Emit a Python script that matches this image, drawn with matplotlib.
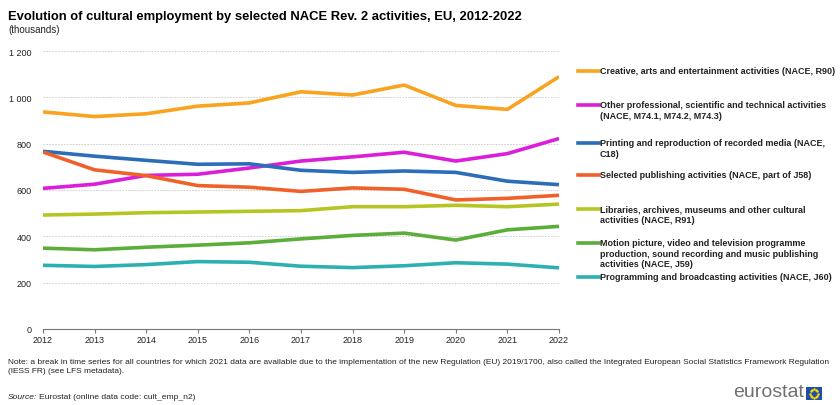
import numpy as np
import matplotlib
matplotlib.use('Agg')
from matplotlib import pyplot as plt
from matplotlib.lines import Line2D

years = list(range(2012, 2023))

creative = [937, 917, 929, 962, 976, 1024, 1010, 1053, 965, 948, 1089]
professional = [607, 625, 663, 668, 695, 725, 743, 763, 725, 757, 822]
printing = [767, 746, 728, 711, 713, 685, 676, 682, 676, 638, 623]
publishing = [764, 687, 662, 619, 612, 594, 609, 603, 557, 564, 577]
libraries = [492, 496, 502, 505, 508, 511, 528, 528, 534, 528, 539]
motion = [349, 342, 353, 362, 372, 389, 404, 414, 384, 428, 443]
broadcasting = [275, 270, 278, 291, 288, 271, 265, 273, 286, 280, 264]

labels = [
    'Creative, arts and entertainment activities (NACE, R90)',
    'Other professional, scientific and technical activities\n(NACE, M74.1, M74.2, M74.3)',
    'Printing and reproduction of recorded media (NACE,\nC18)',
    'Selected publishing activities (NACE, part of J58)',
    'Libraries, archives, museums and other cultural\nactivities (NACE, R91)',
    'Motion picture, video and television programme\nproduction, sound recording and music publishing\nactivities (NACE, J59)',
    'Programming and broadcasting activities (NACE, J60)',
]
series = [creative, professional, printing, publishing, libraries, motion, broadcasting]
colors = ['#F9A31E', '#DB1ED9', '#2B6DB6', '#F0612A', '#B7C524', '#5BAE3A', '#2FB0B0']

plt.rcParams['font.family'] = ['Liberation Sans', 'DejaVu Sans']

fig = plt.figure(figsize=(8.4, 4.06), dpi=100)
ax = fig.add_axes([43 / 840, 1 - 330 / 406, (559 - 43) / 840, (330 - 52) / 406])

for vals, c in zip(series, colors):
    ax.plot(years, vals, color=c, lw=2.6, solid_capstyle='butt')

ax.set_xlim(2012, 2022)
ax.set_ylim(0, 1200)
ax.set_xticks(years)
ax.set_yticks(range(0, 1201, 200))
ax.set_yticklabels(['0', '200', '400', '600', '800', '1 000', '1 200'])
ax.yaxis.grid(True, color='#c8c8c8', ls=(0, (2, 1.5)), lw=0.6)
ax.set_axisbelow(True)
for s in ['top', 'right', 'left']:
    ax.spines[s].set_visible(False)
ax.spines['bottom'].set_color('#777777')
ax.spines['bottom'].set_linewidth(0.8)
ax.tick_params(axis='y', length=0, labelsize=6.5, pad=8, colors='#222222')
ax.tick_params(axis='x', length=3, width=0.8, color='#777777', labelsize=6.5,
               pad=1, labelcolor='#222222')

# legend, entries placed on a fixed step like the original
legend_y = [72, 106, 144, 176, 210, 244, 278]
for lab, c, yy in zip(labels, colors, legend_y):
    y0 = 1 - yy / 406
    fig.add_artist(Line2D([578 / 840, 599 / 840], [y0, y0], color=c, lw=2.6,
                          transform=fig.transFigure))
    fig.text(600 / 840, y0 + 5 / 406, lab, fontsize=6.5, fontweight='bold',
             color='#222222', va='top', ha='left', linespacing=1.22)

fig.text(8 / 840, 1 - 17 / 406, 'Evolution of cultural employment by selected NACE Rev. 2 activities, EU, 2012-2022',
         fontsize=9.4, fontweight='bold', va='center', ha='left')
fig.text(8 / 840, 1 - 30 / 406, '(thousands)', fontsize=7, va='center', ha='left', color='#222222')

narrow = ['Liberation Sans Narrow', 'Liberation Sans', 'DejaVu Sans']
fig.text(8 / 840, 1 - 367 / 406,
         'Note: a break in time series for all countries for which 2021 data are available due to the implementation of the new Regulation (EU) 2019/1700, also called the Integrated European Social Statistics Framework Regulation\n(IESS FR) (see LFS metadata).',
         fontsize=6.0, family=narrow, va='center', ha='left', linespacing=1.4, color='#222222')
fig.text(8 / 840, 1 - 398 / 406, 'Source:', fontsize=6.1, style='italic', family=narrow,
         va='center', ha='left', color='#222222')
fig.text(39 / 840, 1 - 398 / 406, 'Eurostat (online data code: cult_emp_n2)', fontsize=6.1,
         family=narrow, va='center', ha='left', color='#222222')

# eurostat logo
fig.text(804 / 840, 1 - 393 / 406, 'eurostat', fontsize=14, color='#707070',
         ha='right', va='center')
flag = fig.add_axes([806 / 840, 1 - 401 / 406, 16 / 840, 13 / 406])
flag.set_facecolor('#1f4fa8')
flag.set_xlim(-1.5, 1.5)
flag.set_ylim(-1.2, 1.2)
ang = np.linspace(0, 2 * np.pi, 13)[:-1]
flag.scatter(0.75 * np.cos(ang), 0.75 * np.sin(ang), s=0.6, color='#ffdd00')
flag.set_xticks([])
flag.set_yticks([])
for s in flag.spines.values():
    s.set_visible(False)

fig.savefig('out.png', dpi=100)
